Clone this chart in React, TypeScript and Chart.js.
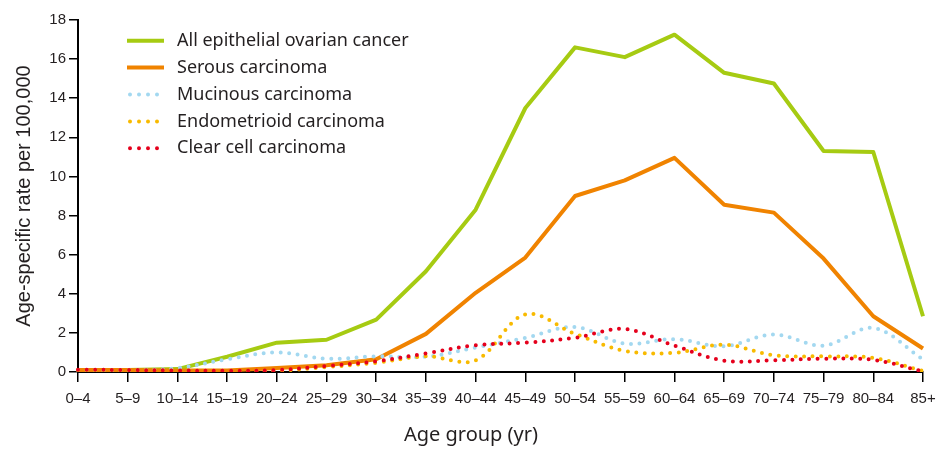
import React, { useEffect, useRef } from "react";
import { Chart, registerables } from "chart.js";

Chart.register(...registerables);

const categories = ["0–4", "5–9", "10–14", "15–19", "20–24", "25–29", "30–34", "35–39", "40–44", "45–49", "50–54", "55–59", "60–64", "65–69", "70–74", "75–79", "80–84", "85+"];

const allEpithelial = [0.1, 0.1, 0.15, 0.78, 1.5, 1.65, 2.68, 5.15, 8.3, 13.5, 16.6, 16.1, 17.25, 15.3, 14.75, 11.3, 11.25, 2.85];
const serous = [0.1, 0.1, 0.08, 0.08, 0.2, 0.35, 0.65, 1.95, 4.05, 5.85, 9.0, 9.8, 10.95, 8.55, 8.15, 5.8, 2.85, 1.2];
const mucinous = [0.1, 0.1, 0.2, 0.65, 1.0, 0.68, 0.8, 0.78, 1.25, 1.75, 2.3, 1.45, 1.68, 1.32, 1.92, 1.35, 2.25, 0.65];
const endometrioid = [0.1, 0.1, 0.07, 0.05, 0.06, 0.25, 0.47, 0.8, 0.6, 2.95, 1.95, 1.08, 0.98, 1.4, 0.85, 0.8, 0.72, 0.05];
const clearCell = [0.12, 0.1, 0.08, 0.06, 0.1, 0.3, 0.55, 0.95, 1.37, 1.5, 1.75, 2.2, 1.35, 0.58, 0.6, 0.68, 0.62, 0.03];

const seriesNames = ["All epithelial ovarian cancer", "Serous carcinoma", "Mucinous carcinoma", "Endometrioid carcinoma", "Clear cell carcinoma"];
const seriesColors = ["#A6CB12", "#F08300", "#A3D8F0", "#F8BA00", "#E5001C"];
const seriesDotted = [false, false, true, true, true];

const yTickMax = 18;
const yTickStep = 2;
const xTitle = "Age group (yr)";
const yTitle = "Age-specific rate per 100,000";

const TEXT = "#231F20";

const customDraw = {
  id: "customDraw",
  afterDraw(chart: any) {
    const ctx = chart.ctx;
    const area = chart.chartArea;
    ctx.save();
    // legend
    const x0 = area.left + 49;
    const y0 = area.top + 20.7;
    const rowH = 26.9;
    ctx.font = "18px 'Noto Sans'";
    ctx.textBaseline = "middle";
    ctx.textAlign = "left";
    seriesNames.forEach((name, i) => {
      const y = y0 + i * rowH;
      ctx.save();
      ctx.strokeStyle = seriesColors[i];
      ctx.lineWidth = 4;
      if (seriesDotted[i]) {
        ctx.setLineDash([0, 9]);
        ctx.lineCap = "round";
        ctx.beginPath();
        ctx.moveTo(x0 + 3, y);
        ctx.lineTo(x0 + 33, y);
        ctx.stroke();
      } else {
        ctx.lineCap = "butt";
        ctx.beginPath();
        ctx.moveTo(x0, y);
        ctx.lineTo(x0 + 37, y);
        ctx.stroke();
      }
      ctx.restore();
      ctx.fillStyle = TEXT;
      ctx.fillText(name, x0 + 50, y);
    });
    // x title
    ctx.font = "20px 'Noto Sans'";
    ctx.textAlign = "center";
    ctx.textBaseline = "alphabetic";
    ctx.fillStyle = TEXT;
    ctx.fillText(xTitle, 471, 441);
    // y title
    ctx.save();
    ctx.translate(24, (area.top + area.bottom) / 2);
    ctx.rotate(-Math.PI / 2);
    ctx.font = "20px 'Liberation Sans'";
    ctx.textAlign = "center";
    ctx.textBaseline = "middle";
    ctx.fillText(yTitle, 0, 0);
    ctx.restore();
    ctx.restore();
  },
};

export default function App() {
  const canvasRef = useRef<HTMLCanvasElement | null>(null);

  useEffect(() => {
    const canvas = canvasRef.current;
    if (!canvas) return;
    const values = [allEpithelial, serous, mucinous, endometrioid, clearCell];
    const orders = [4, 3, 2, 1, 0];
    const chart = new Chart(canvas, {
      type: "line",
      data: {
        labels: categories,
        datasets: values.map((v, i) => ({
          label: seriesNames[i],
          data: v,
          borderColor: seriesColors[i],
          backgroundColor: seriesColors[i],
          borderWidth: 4,
          pointRadius: 0,
          pointHoverRadius: 0,
          fill: false,
          order: orders[i],
          tension: seriesDotted[i] ? 0.35 : 0,
          borderDash: seriesDotted[i] ? [0, 8.5] : [],
          borderCapStyle: seriesDotted[i] ? "round" : "butt",
          borderJoinStyle: "round",
        })),
      },
      options: {
        responsive: false,
        animation: false,
        events: [],
        layout: { padding: { left: 0, top: 20, right: 24, bottom: 0 } },
        plugins: {
          legend: { display: false },
          tooltip: { enabled: false },
          title: { display: false },
        },
        scales: {
          x: {
            type: "category",
            offset: false,
            afterFit: (s: any) => {
              s.height = 77;
            },
            border: { display: true, color: "#000", width: 2 },
            grid: { drawOnChartArea: false, drawTicks: true, tickLength: 10, color: "#000", lineWidth: 1.5 },
            ticks: {
              color: TEXT,
              font: { family: "'Liberation Sans'", size: 15 },
              padding: 8,
              maxRotation: 0,
              autoSkip: false,
            },
          },
          y: {
            min: 0,
            max: yTickMax,
            afterFit: (s: any) => {
              s.width = 78;
            },
            border: { display: true, color: "#000", width: 2 },
            grid: { drawOnChartArea: false, drawTicks: true, tickLength: 9, color: "#000", lineWidth: 1.5 },
            ticks: {
              stepSize: yTickStep,
              color: TEXT,
              font: { family: "'Liberation Sans'", size: 15 },
              padding: 3,
            },
          },
        },
      },
      plugins: [customDraw],
    });
    return () => chart.destroy();
  }, []);

  return (
    <div style={{ position: "fixed", left: 0, top: 0, width: 947, height: 449, background: "#fff" }}>
      <canvas ref={canvasRef} width={947} height={449} style={{ display: "block", width: 947, height: 449 }} />
    </div>
  );
}
